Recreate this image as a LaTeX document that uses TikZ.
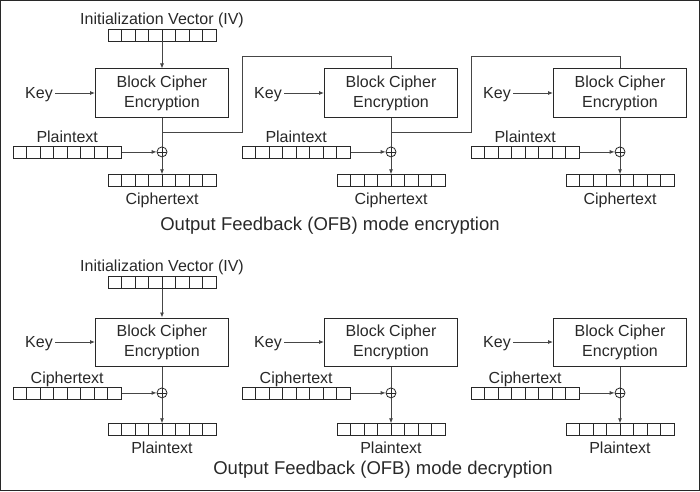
\documentclass[tikz,border=0pt]{standalone}
\usepackage{fontspec}
\setmainfont{Liberation Sans}
\usepackage{xcolor}
\usepackage{tikz}
\usetikzlibrary{arrows.meta, positioning}
\definecolor{inkgray}{RGB}{40,40,40}
\definecolor{wiregray}{RGB}{70,70,70}
\tikzset{
    cipherbox/.style={rectangle, draw=inkgray, line width=1pt, minimum width=133pt, minimum height=48pt, inner sep=0pt, align=center, text=inkgray, font=\fontsize{16}{20}\selectfont},
    regbox/.style={rectangle, draw=inkgray, line width=0.8pt, minimum width=108pt, minimum height=12pt, inner sep=0pt,
        path picture={\foreach \k in {1,...,7}{\draw[inkgray, line width=0.8pt] ([xshift=\k*13.5pt]path picture bounding box.south west) -- ([xshift=\k*13.5pt]path picture bounding box.north west);}}},
    xorsym/.style={circle, draw=inkgray, line width=0.8pt, minimum size=10pt, inner sep=0pt,
        path picture={\draw[inkgray, line width=0.8pt] (path picture bounding box.north) -- (path picture bounding box.south) (path picture bounding box.west) -- (path picture bounding box.east);}},
    lbl/.style={inner sep=2pt, text depth=0pt, text=inkgray, font=\fontsize{16}{19}\selectfont},
    modetitle/.style={inner sep=2pt, text=inkgray, font=\fontsize{18.5}{22}\selectfont},
    wire/.style={draw=wiregray, line width=0.8pt},
    wirearrow/.style={wire, -{Latex[length=5pt, width=4pt]}},
    frame/.style={draw=inkgray, line width=1.2pt}
}

\begin{document}
\begin{tikzpicture}[x=1pt, y=1pt]
\useasboundingbox (0,0) rectangle (700,491);
\draw[frame] (0.6,0.6) rectangle (699.4,490.4);

% encryption row
\foreach \s/\x in {1/162, 2/391, 3/620}{
    \node[cipherbox] (ebox\s) at (\x,398) {Block Cipher\\Encryption};
    \node[lbl, left=40pt of ebox\s] (ekey\s) {Key};
    \node[xorsym, below=29pt of ebox\s] (exor\s) {};
    \node[regbox, left=35pt of exor\s] (ein\s) {};
    \node[lbl, above=1pt of ein\s] (einl\s) {Plaintext};
    \node[regbox, below=17pt of exor\s] (eout\s) {};
    \node[lbl, below=4pt of eout\s] (eoutl\s) {Ciphertext};
    \draw[wirearrow] (ekey\s) -- (ebox\s);
    \draw[wire] (ebox\s) -- (exor\s);
    \draw[wirearrow] (ein\s) -- (exor\s);
    \draw[wirearrow] (exor\s) -- (eout\s);
}
\node[regbox, above=27pt of ebox1] (eiv) {};
\node[lbl, above=2pt of eiv] (eivl) {Initialization Vector (IV)};
\draw[wirearrow] (eiv) -- (ebox1);

% feedback into next stage
\foreach \s/\t in {1/2, 2/3}{
    \path (ebox\s) -- coordinate[pos=0.5] (etap\s) (exor\s);
    \draw[wire] (etap\s) -- ++(80,0) |- ([yshift=12pt]ebox\t.north) -- (ebox\t);
}
\node[modetitle] (etitle) at (330,265) {Output Feedback (OFB) mode encryption};

% decryption row
\foreach \s/\x in {1/162, 2/391, 3/620}{
    \node[cipherbox] (dbox\s) at (\x,149) {Block Cipher\\Encryption};
    \node[lbl, left=40pt of dbox\s] (dkey\s) {Key};
    \node[xorsym, below=21pt of dbox\s] (dxor\s) {};
    \node[regbox, left=35pt of dxor\s] (din\s) {};
    \node[lbl, above=1pt of din\s] (dinl\s) {Ciphertext};
    \node[regbox, below=25pt of dxor\s] (dout\s) {};
    \node[lbl, below=4pt of dout\s] (doutl\s) {Plaintext};
    \draw[wirearrow] (dkey\s) -- (dbox\s);
    \draw[wire] (dbox\s) -- (dxor\s);
    \draw[wirearrow] (din\s) -- (dxor\s);
    \draw[wirearrow] (dxor\s) -- (dout\s);
}
\node[regbox, above=29pt of dbox1] (div) {};
\node[lbl, above=2pt of div] (divl) {Initialization Vector (IV)};
\draw[wirearrow] (div) -- (dbox1);
\node[modetitle] (dtitle) at (383,21) {Output Feedback (OFB) mode decryption};

\end{tikzpicture}
\end{document}
